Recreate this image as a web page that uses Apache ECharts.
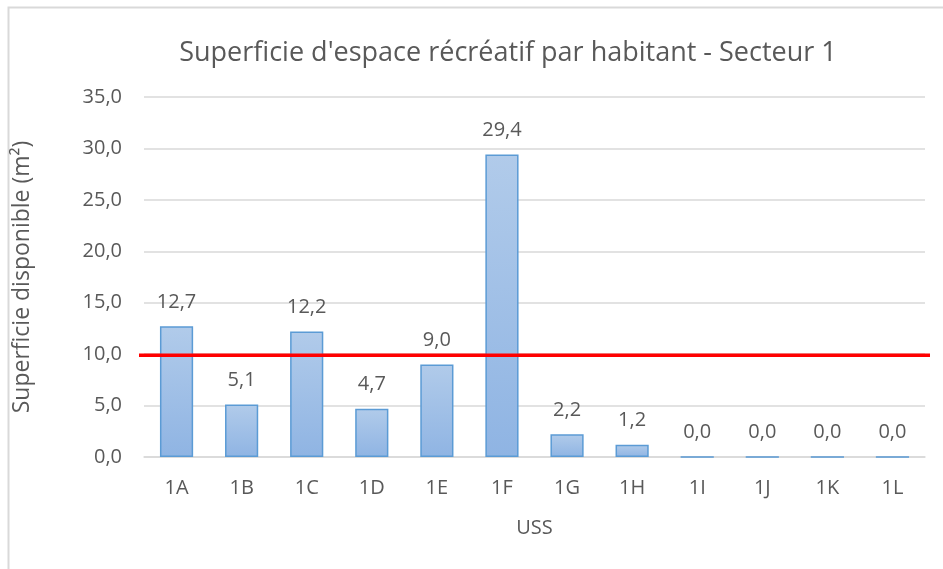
<!DOCTYPE html>
<html>
<head>
<meta charset="utf-8">
<script src="https://cdn.jsdelivr.net/npm/echarts@6/dist/echarts.min.js"></script>
<style>
  html, body { margin: 0; padding: 0; background: #fff; }
  #main { width: 943px; height: 569px; }
</style>
</head>
<body>
<div id="main"></div>
<script>
// données
var categories = ['1A', '1B', '1C', '1D', '1E', '1F', '1G', '1H', '1I', '1J', '1K', '1L'];
var superficie = [12.7, 5.1, 12.2, 4.7, 9.0, 29.4, 2.2, 1.2, 0.0, 0.0, 0.0, 0.0];
var seuil = 9.9;
var yTicks = [0, 5, 10, 15, 20, 25, 30, 35];

var font = 'Open Sans';
var gris = '#595959';

var myChart = echarts.init(document.getElementById('main'));
myChart.setOption({
  animation: false,
  textStyle: { fontFamily: font },
  title: {
    text: "Superficie d'espace récréatif par habitant - Secteur 1",
    left: 503,
    top: 35,
    textAlign: 'center',
    textStyle: { fontFamily: font, fontSize: 27, fontWeight: 'normal', color: gris }
  },
  graphic: [{
    type: 'rect',
    shape: { x: 8.5, y: 7.5, width: 1000, height: 1000 },
    style: { fill: 'none', stroke: '#d9d9d9', lineWidth: 2 },
    silent: true
  }],
  grid: [
    { left: 144, right: 18, top: 97, bottom: 112 },
    // grille invisible pour la ligne rouge qui dépasse un peu
    { left: 139, right: 13, top: 97, bottom: 112 }
  ],
  xAxis: [{
    type: 'category',
    gridIndex: 0,
    data: categories,
    name: 'USS',
    nameLocation: 'middle',
    nameGap: 61,
    nameTextStyle: { fontSize: 20, color: gris },
    axisLine: { lineStyle: { color: '#d9d9d9', width: 1.5 } },
    axisTick: { show: false },
    axisLabel: { fontSize: 20, color: gris, margin: 21 }
  }, {
    type: 'value',
    gridIndex: 1,
    min: 0,
    max: 1,
    show: false
  }],
  yAxis: [{
    type: 'value',
    gridIndex: 0,
    min: 0,
    max: 35,
    interval: 5,
    name: 'Superficie disponible (m²)',
    nameLocation: 'middle',
    nameGap: 110,
    nameTextStyle: { fontSize: 23, color: gris },
    axisLine: { show: false },
    axisTick: { show: false },
    splitLine: { lineStyle: { color: '#d9d9d9', width: 1.5 } },
    axisLabel: {
      fontSize: 20,
      color: gris,
      margin: 22,
      formatter: function (v) { return v.toFixed(1).replace('.', ','); }
    }
  }, {
    type: 'value',
    gridIndex: 1,
    min: yTicks[0],
    max: yTicks[yTicks.length - 1],
    show: false
  }],
  series: [{
    name: 'Superficie',
    type: 'bar',
    xAxisIndex: 0,
    yAxisIndex: 0,
    barWidth: '51%',
    data: superficie,
    itemStyle: {
      color: new echarts.graphic.LinearGradient(0, 0, 0, 1, [
        { offset: 0, color: '#b1cbea' },
        { offset: 1, color: '#8fb4e3' }
      ]),
      borderColor: '#5b9bd5',
      borderWidth: 1.5
    },
    label: {
      show: true,
      position: 'top',
      distance: 14,
      fontSize: 20,
      color: gris,
      formatter: function (p) { return p.value.toFixed(1).replace('.', ','); }
    }
  }, {
    name: 'Seuil',
    type: 'line',
    xAxisIndex: 1,
    yAxisIndex: 1,
    data: [[0, seuil], [1, seuil]],
    symbol: 'none',
    lineStyle: { color: '#ff0000', width: 3.5 },
    z: 5
  }]
});
</script>
</body>
</html>
